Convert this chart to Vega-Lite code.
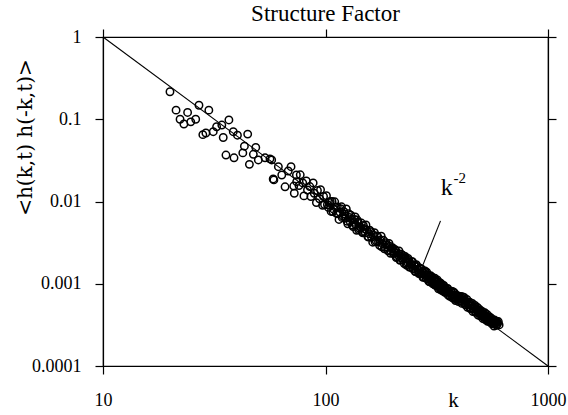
{
  "$schema": "https://vega.github.io/schema/vega-lite/v6.json",
  "width": 445,
  "height": 329,
  "autosize": {"type": "none"},
  "padding": {"left": 103, "top": 37, "right": 20, "bottom": 49},
  "background": "white",
  "config": {
    "view": {"stroke": "black", "strokeWidth": 1.2},
    "axis": {
      "grid": false,
      "domain": true,
      "domainColor": "black",
      "domainWidth": 1.2,
      "tickColor": "black",
      "tickWidth": 1.2,
      "tickSize": 8,
      "labelColor": "black",
      "labelFont": "Liberation Serif",
      "labelFontSize": 18,
      "titleFont": "Liberation Serif",
      "titleFontWeight": "normal",
      "titleColor": "black"
    }
  },
  "title": {
    "text": "Structure Factor",
    "font": "Liberation Serif",
    "fontSize": 23,
    "fontWeight": "normal",
    "color": "black",
    "anchor": "middle",
    "frame": "group",
    "baseline": "alphabetic",
    "offset": -16
  },
  "datasets": {
    "fit": [{"k": 10, "s": 1}, {"k": 1000, "s": 0.0001}],
    "ptr": [{"k": 328.8, "s": 0.005811}, {"k": 274.2, "s": 0.001698}],
    "klab": [{"k": 350.5, "s": 0.01203, "t": "k"}],
    "elab": [{"k": 376.2, "s": 0.01697, "t": "-2"}],
    "pts": [
      {"k": 20.0, "s": 0.216}, {"k": 21.3, "s": 0.129}, {"k": 24.0, "s": 0.121}, {"k": 22.2, "s": 0.10},
      {"k": 23.1, "s": 0.0875}, {"k": 24.8, "s": 0.093}, {"k": 26.1, "s": 0.10}, {"k": 27.0, "s": 0.148},
      {"k": 29.9, "s": 0.129}, {"k": 28.1, "s": 0.065}, {"k": 29.0, "s": 0.068}, {"k": 31.3, "s": 0.0706},
      {"k": 32.4, "s": 0.081}, {"k": 34.2, "s": 0.085}, {"k": 36.8, "s": 0.098}, {"k": 34.7, "s": 0.060},
      {"k": 38.5, "s": 0.0706}, {"k": 40.2, "s": 0.064}, {"k": 44.7, "s": 0.066}, {"k": 35.7, "s": 0.0367},
      {"k": 38.8, "s": 0.034}, {"k": 42.5, "s": 0.039}, {"k": 43.2, "s": 0.047}, {"k": 45.5, "s": 0.0283},
      {"k": 48.6, "s": 0.0455}, {"k": 47.4, "s": 0.0375}, {"k": 49.9, "s": 0.032}, {"k": 53.5, "s": 0.034},
      {"k": 56.3, "s": 0.033}, {"k": 58.2, "s": 0.0188}, {"k": 61.4, "s": 0.0265}, {"k": 68.0, "s": 0.0235},
      {"k": 65.8, "s": 0.0151}, {"k": 72.4, "s": 0.0126}, {"k": 74.2, "s": 0.0174}, {"k": 63.6, "s": 0.021},
      {"k": 57.3, "s": 0.032}, {"k": 58.6, "s": 0.0183},
      {"k": 70, "s": 0.0265}, {"k": 72, "s": 0.0154}, {"k": 74, "s": 0.0210}, {"k": 76, "s": 0.0156},
      {"k": 77, "s": 0.0211}, {"k": 79, "s": 0.0168}, {"k": 80, "s": 0.0117}, {"k": 82, "s": 0.0178},
      {"k": 83, "s": 0.0138}, {"k": 85, "s": 0.0152}, {"k": 86, "s": 0.0115}, {"k": 88, "s": 0.0168},
      {"k": 89, "s": 0.0126}, {"k": 91, "s": 0.0097}, {"k": 92, "s": 0.0136}, {"k": 94, "s": 0.0108},
      {"k": 95, "s": 0.0139}, {"k": 97, "s": 0.0090}, {"k": 98, "s": 0.0115}, {"k": 99, "s": 0.0092},
      {"k": 101, "s": 0.01176}, {"k": 103, "s": 0.00848}, {"k": 104, "s": 0.00971}, {"k": 106, "s": 0.00757},
      {"k": 107, "s": 0.01004}, {"k": 109, "s": 0.0080}, {"k": 110, "s": 0.00992}, {"k": 112, "s": 0.00717},
      {"k": 113, "s": 0.00861}, {"k": 115, "s": 0.00605}, {"k": 116, "s": 0.00743}, {"k": 118, "s": 0.00862},
      {"k": 119, "s": 0.00636}, {"k": 121, "s": 0.00751}, {"k": 123, "s": 0.00628}, {"k": 124, "s": 0.00813},
      {"k": 126, "s": 0.00535}, {"k": 128, "s": 0.00641}, {"k": 130, "s": 0.0068}, {"k": 132, "s": 0.00517},
      {"k": 134, "s": 0.00557}, {"k": 136, "s": 0.00649}, {"k": 138, "s": 0.00446}, {"k": 140, "s": 0.00561},
      {"k": 142, "s": 0.00471}, {"k": 145, "s": 0.00547}, {"k": 147, "s": 0.00417}, {"k": 150, "s": 0.00467},
      {"k": 152, "s": 0.00519}, {"k": 155, "s": 0.00375}, {"k": 157, "s": 0.00406}, {"k": 160, "s": 0.0043},
      {"k": 163, "s": 0.0032}, {"k": 166, "s": 0.00417}, {"k": 169, "s": 0.00333}, {"k": 172, "s": 0.00372},
      {"k": 175, "s": 0.00294}, {"k": 178, "s": 0.00379}, {"k": 181, "s": 0.00305}, {"k": 184, "s": 0.00266},
      {"k": 187, "s": 0.00315}, {"k": 190, "s": 0.00277}, {"k": 193, "s": 0.00309}, {"k": 196, "s": 0.00234},
      {"k": 199, "s": 0.00265},
      {"k": 202, "s": 0.00233}, {"k": 205, "s": 0.00262}, {"k": 208, "s": 0.00208}, {"k": 211, "s": 0.00236},
      {"k": 214, "s": 0.00251}, {"k": 217, "s": 0.00195}, {"k": 220, "s": 0.00207}, {"k": 223, "s": 0.00221},
      {"k": 226, "s": 0.00176}, {"k": 229, "s": 0.0020}, {"k": 232, "s": 0.00177}, {"k": 235, "s": 0.00203},
      {"k": 238, "s": 0.00159}, {"k": 241, "s": 0.00172}, {"k": 244, "s": 0.00185}, {"k": 247, "s": 0.00152},
      {"k": 250, "s": 0.00168}, {"k": 253, "s": 0.00141}, {"k": 256, "s": 0.00171}, {"k": 259, "s": 0.00149},
      {"k": 262, "s": 0.00134}, {"k": 265, "s": 0.00154}, {"k": 268, "s": 0.00132}, {"k": 271, "s": 0.0015},
      {"k": 274, "s": 0.0012}, {"k": 277, "s": 0.00134}, {"k": 280, "s": 0.00143}, {"k": 283, "s": 0.00116},
      {"k": 286, "s": 0.00122}, {"k": 289, "s": 0.00129}, {"k": 292, "s": 0.00106}, {"k": 295, "s": 0.00121},
      {"k": 298, "s": 0.00107}, {"k": 301, "s": 0.00121}, {"k": 304, "s": 0.000995}, {"k": 307, "s": 0.00109},
      {"k": 310, "s": 0.00117}, {"k": 313, "s": 0.00095}, {"k": 316, "s": 0.0010}, {"k": 319, "s": 0.00106},
      {"k": 322, "s": 0.000868}, {"k": 325, "s": 0.000994}, {"k": 328, "s": 0.000883}, {"k": 331, "s": 0.0010},
      {"k": 334, "s": 0.000825}, {"k": 337, "s": 0.000907}, {"k": 340, "s": 0.000952}, {"k": 344, "s": 0.000786},
      {"k": 348, "s": 0.000826}, {"k": 352, "s": 0.000872}, {"k": 356, "s": 0.000726}, {"k": 360, "s": 0.00081},
      {"k": 364, "s": 0.000717}, {"k": 368, "s": 0.000812}, {"k": 372, "s": 0.000672}, {"k": 376, "s": 0.000728},
      {"k": 380, "s": 0.000776}, {"k": 384, "s": 0.000624}, {"k": 388, "s": 0.000664}, {"k": 392, "s": 0.000703},
      {"k": 396, "s": 0.000606},
      {"k": 400, "s": 0.000656}, {"k": 405, "s": 0.000701}, {"k": 410, "s": 0.000577}, {"k": 415, "s": 0.000639},
      {"k": 420, "s": 0.00068}, {"k": 425, "s": 0.000554}, {"k": 430, "s": 0.000606}, {"k": 435, "s": 0.000518},
      {"k": 440, "s": 0.000558}, {"k": 445, "s": 0.000596}, {"k": 450, "s": 0.000504}, {"k": 455, "s": 0.000541},
      {"k": 460, "s": 0.000459}, {"k": 465, "s": 0.000499}, {"k": 470, "s": 0.000544}, {"k": 475, "s": 0.000456},
      {"k": 480, "s": 0.000486}, {"k": 485, "s": 0.000417}, {"k": 490, "s": 0.000458}, {"k": 495, "s": 0.000482},
      {"k": 500, "s": 0.00042}, {"k": 505, "s": 0.000439}, {"k": 510, "s": 0.000377}, {"k": 515, "s": 0.000415},
      {"k": 520, "s": 0.000444}, {"k": 525, "s": 0.000381}, {"k": 530, "s": 0.000399}, {"k": 535, "s": 0.000349},
      {"k": 540, "s": 0.000377}, {"k": 545, "s": 0.000397}, {"k": 550, "s": 0.000347}, {"k": 555, "s": 0.000364},
      {"k": 560, "s": 0.000325}, {"k": 565, "s": 0.00036}, {"k": 570, "s": 0.000333}, {"k": 575, "s": 0.000362},
      {"k": 580, "s": 0.000327}, {"k": 585, "s": 0.000336}, {"k": 590, "s": 0.000345}, {"k": 598, "s": 0.000347},
      {"k": 102, "s": 0.00913}, {"k": 105, "s": 0.00998}, {"k": 108, "s": 0.00754}, {"k": 111, "s": 0.00852},
      {"k": 114, "s": 0.00708}, {"k": 117, "s": 0.00818}, {"k": 120, "s": 0.0066}, {"k": 122, "s": 0.00705},
      {"k": 125, "s": 0.00576}, {"k": 127, "s": 0.00713}, {"k": 129, "s": 0.00571}, {"k": 131, "s": 0.00612},
      {"k": 133, "s": 0.00497}, {"k": 135, "s": 0.00604}, {"k": 137, "s": 0.00517}, {"k": 139, "s": 0.00595},
      {"k": 141, "s": 0.00453}, {"k": 144, "s": 0.00482}, {"k": 146, "s": 0.00432}, {"k": 148, "s": 0.00511},
      {"k": 151, "s": 0.00417}, {"k": 153, "s": 0.00449}, {"k": 156, "s": 0.0037}, {"k": 158, "s": 0.00449},
      {"k": 161, "s": 0.00367}, {"k": 164, "s": 0.0039}, {"k": 167, "s": 0.00323}, {"k": 170, "s": 0.00381},
      {"k": 173, "s": 0.00324}, {"k": 176, "s": 0.00339}, {"k": 179, "s": 0.00281}, {"k": 182, "s": 0.00338},
      {"k": 185, "s": 0.00278}, {"k": 188, "s": 0.00297}, {"k": 191, "s": 0.00252}, {"k": 194, "s": 0.00287},
      {"k": 197, "s": 0.0025}, {"k": 200, "s": 0.00275}, {"k": 204, "s": 0.0024}, {"k": 207, "s": 0.00252},
      {"k": 210, "s": 0.00211}, {"k": 213, "s": 0.0022}, {"k": 216, "s": 0.00193}, {"k": 219, "s": 0.00229},
      {"k": 222, "s": 0.00197}, {"k": 225, "s": 0.00207}, {"k": 228, "s": 0.00215}, {"k": 231, "s": 0.00169},
      {"k": 234, "s": 0.00183}, {"k": 237, "s": 0.00192}, {"k": 240, "s": 0.00161}, {"k": 243, "s": 0.00173},
      {"k": 246, "s": 0.00185}, {"k": 249, "s": 0.00153}, {"k": 252, "s": 0.00165}, {"k": 255, "s": 0.00141},
      {"k": 258, "s": 0.00162}, {"k": 261, "s": 0.00147}, {"k": 264, "s": 0.00133}, {"k": 267, "s": 0.00154},
      {"k": 270, "s": 0.00133}, {"k": 273, "s": 0.00141}, {"k": 276, "s": 0.00121}, {"k": 279, "s": 0.00139},
      {"k": 282, "s": 0.00126}, {"k": 285, "s": 0.00138}, {"k": 288, "s": 0.00115}, {"k": 291, "s": 0.00122},
      {"k": 294, "s": 0.00106}, {"k": 297, "s": 0.00125}, {"k": 300, "s": 0.00111}, {"k": 303, "s": 0.00103},
      {"k": 306, "s": 0.00115}, {"k": 309, "s": 0.000974}, {"k": 312, "s": 0.00108}, {"k": 315, "s": 0.000978},
      {"k": 318, "s": 0.00111}, {"k": 321, "s": 0.000922}, {"k": 324, "s": 0.000981}, {"k": 327, "s": 0.00103},
      {"k": 330, "s": 0.000845}, {"k": 333, "s": 0.000947}, {"k": 336, "s": 0.000859}, {"k": 339, "s": 0.00094},
      {"k": 342, "s": 0.000795}, {"k": 346, "s": 0.000877}, {"k": 350, "s": 0.000792}, {"k": 354, "s": 0.000878},
      {"k": 358, "s": 0.00078}, {"k": 362, "s": 0.000702}, {"k": 366, "s": 0.000806}, {"k": 370, "s": 0.00073},
      {"k": 374, "s": 0.000801}, {"k": 378, "s": 0.000665}, {"k": 382, "s": 0.000719}, {"k": 386, "s": 0.000651},
      {"k": 390, "s": 0.000723}, {"k": 394, "s": 0.000644}, {"k": 398, "s": 0.000707}, {"k": 402, "s": 0.000619},
      {"k": 407, "s": 0.000652}, {"k": 412, "s": 0.000695}, {"k": 417, "s": 0.000592}, {"k": 422, "s": 0.000629},
      {"k": 427, "s": 0.000581}, {"k": 432, "s": 0.000643}, {"k": 437, "s": 0.00055}, {"k": 442, "s": 0.000579},
      {"k": 447, "s": 0.0005}, {"k": 452, "s": 0.000538}, {"k": 457, "s": 0.000575}, {"k": 462, "s": 0.000491},
      {"k": 467, "s": 0.000523}, {"k": 472, "s": 0.000449}, {"k": 477, "s": 0.000483}, {"k": 482, "s": 0.000516},
      {"k": 487, "s": 0.000443}, {"k": 492, "s": 0.000467}, {"k": 497, "s": 0.000405}, {"k": 502, "s": 0.000437},
      {"k": 507, "s": 0.000459}, {"k": 512, "s": 0.0004}, {"k": 517, "s": 0.000423}, {"k": 522, "s": 0.000367},
      {"k": 527, "s": 0.000396}, {"k": 532, "s": 0.000424}, {"k": 537, "s": 0.000368}, {"k": 542, "s": 0.000388},
      {"k": 547, "s": 0.000344}, {"k": 552, "s": 0.000361}, {"k": 557, "s": 0.00038}, {"k": 562, "s": 0.000336},
      {"k": 567, "s": 0.000351}, {"k": 572, "s": 0.000306}, {"k": 577, "s": 0.00033}, {"k": 582, "s": 0.000354},
      {"k": 587, "s": 0.000313}, {"k": 593, "s": 0.000327}, {"k": 603, "s": 0.000316}
    ]
  },
  "layer": [
    {
      "data": {"name": "fit"},
      "mark": {"type": "line", "color": "black", "strokeWidth": 1.1},
      "encoding": {
        "x": {
          "field": "k", "type": "quantitative",
          "scale": {"type": "log", "domain": [10, 1000], "nice": false},
          "axis": {
            "orient": "bottom", "values": [10, 100, 1000], "format": "~g",
            "labelPadding": 17, "labelFlush": false,
            "title": "k", "titleFontSize": 21, "titleX": 350, "titleY": 40.7,
            "titleAlign": "center", "titleBaseline": "alphabetic", "titleAngle": 0
          }
        },
        "y": {
          "field": "s", "type": "quantitative",
          "scale": {"type": "log", "domain": [0.0001, 1], "nice": false},
          "axis": {
            "orient": "left", "values": [0.0001, 0.001, 0.01, 0.1, 1], "format": "~g",
            "labelPadding": 14, "labelFlush": false,
            "title": "<h(k,t) h(-k,t)>", "titleFont": "DejaVu Serif", "titleFontSize": 20,
            "titleAngle": 270, "titleX": -72, "titleY": 100,
            "titleAlign": "center", "titleBaseline": "alphabetic"
          }
        }
      }
    },
    {
      "data": {"name": "pts"},
      "mark": {"type": "point", "shape": "circle", "filled": false, "stroke": "black", "strokeWidth": 1.5, "opacity": 1, "size": 55},
      "encoding": {
        "x": {
          "field": "k", "type": "quantitative",
          "scale": {"type": "log", "domain": [10, 1000], "nice": false},
          "axis": {"orient": "top", "values": [10, 100, 1000], "labels": false, "title": null}
        },
        "y": {
          "field": "s", "type": "quantitative",
          "scale": {"type": "log", "domain": [0.0001, 1], "nice": false},
          "axis": {"orient": "right", "values": [0.0001, 0.001, 0.01, 0.1, 1], "labels": false, "title": null}
        }
      }
    },
    {
      "data": {"name": "ptr"},
      "mark": {"type": "line", "color": "black", "strokeWidth": 1.1},
      "encoding": {
        "x": {"field": "k", "type": "quantitative", "axis": null},
        "y": {"field": "s", "type": "quantitative", "axis": null}
      }
    },
    {
      "data": {"name": "klab"},
      "mark": {"type": "text", "font": "Liberation Serif", "fontSize": 24, "align": "center", "baseline": "alphabetic", "color": "black"},
      "encoding": {
        "x": {"field": "k", "type": "quantitative", "axis": null},
        "y": {"field": "s", "type": "quantitative", "axis": null},
        "text": {"field": "t"}
      }
    },
    {
      "data": {"name": "elab"},
      "mark": {"type": "text", "font": "Liberation Serif", "fontSize": 15, "align": "left", "baseline": "alphabetic", "color": "black"},
      "encoding": {
        "x": {"field": "k", "type": "quantitative", "axis": null},
        "y": {"field": "s", "type": "quantitative", "axis": null},
        "text": {"field": "t"}
      }
    }
  ],
  "resolve": {"axis": {"x": "independent", "y": "independent"}}
}
